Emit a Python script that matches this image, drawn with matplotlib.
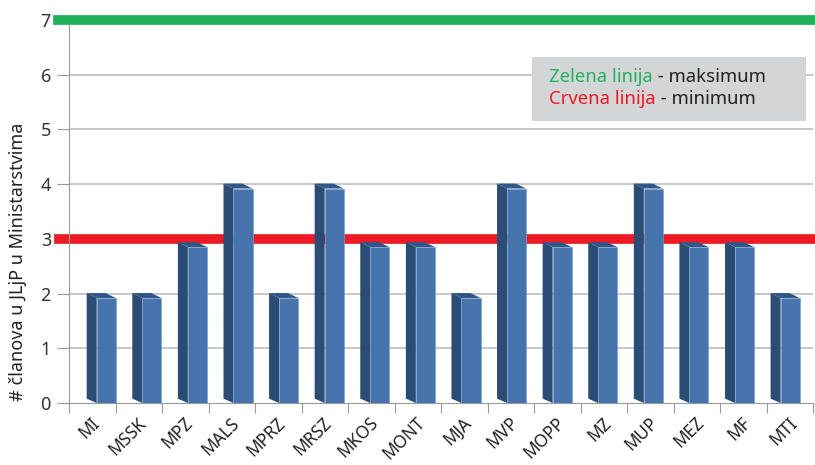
import matplotlib.pyplot as plt
import numpy as np

plt.rcParams['font.family'] = ['Noto Sans', 'DejaVu Sans']

ministarstva = ['MI', 'MSSK', 'MPZ', 'MALS', 'MPRZ', 'MRSZ', 'MKOS', 'MONT',
                'MJA', 'MVP', 'MOPP', 'MZ', 'MUP', 'MEZ', 'MF', 'MTI']
clanovi = [2, 2, 2.93, 4, 2, 4, 2.93, 2.93, 2, 4, 2.93, 2.93, 4, 2.93, 2.93, 2]
maksimum = 7
minimum = 3

front_c = '#4674ad'
side_c = '#2b4c75'
top_c = '#30568a'
grid_c = '#bdbdbd'

fig = plt.figure(figsize=(8.15, 4.65), dpi=100)
ax = fig.add_axes([0.0847, 0.1333, 0.9129, 0.8237])

x = np.arange(len(ministarstva))
v = np.array(clanovi, dtype=float)

# stupci nisu tocno u sredini polja - blago "klize" ulijevo
pos = x + 0.095 - 0.0195 * x

# "3D" stupci: prednja strana + tamna bocna strana + vrh
dy = 0.08
for p, vi in zip(pos, v):
    l, r, b = p - 0.215, p, p + 0.41
    ax.fill([l, r, r, l], [dy, 0, vi - dy, vi + 0.01], color=side_c, zorder=3, lw=0)
    ax.fill([l, r, b, b - 0.22], [vi + 0.01, vi - dy, vi - dy, vi + 0.01],
            color=top_c, zorder=3, lw=0)
ax.bar(pos, v - dy, width=0.41, align='edge', color=front_c,
       edgecolor='#7f9fc8', linewidth=0.5, zorder=4)

ax.set_xlim(-0.5, len(ministarstva) - 0.5)
ax.set_ylim(0, 7)

ax.set_yticks(range(0, 8))
ax.tick_params(axis='y', length=9, color='#999999', labelsize=13,
               labelcolor='#333333', pad=4)
for yv in range(1, 7):
    ax.axhline(yv, color=grid_c, lw=1.2, zorder=1)

ax.set_xticks(np.arange(len(ministarstva) + 1) - 0.5)
ax.set_xticklabels([])
ax.tick_params(axis='x', length=7, color='#999999')
for xi, name in zip(x, ministarstva):
    ax.text(xi - 0.04, -0.2, name, rotation=45, ha='right', va='top',
            rotation_mode='anchor', fontsize=12.4, color='#222222')

for s in ['top', 'right']:
    ax.spines[s].set_visible(False)
ax.spines['left'].set_color('#999999')
ax.spines['bottom'].set_color('#999999')

fig.text(0.022, 0.438, '# članova u JLjP u Ministarstvima', rotation=90,
         fontsize=13, color='#222222', ha='center', va='center')

# linije maksimuma i minimuma
ax.axhline(maksimum, xmin=-0.015, xmax=1.01, color='#1fb15a', lw=7, clip_on=False, zorder=5)
ax.axhline(minimum, xmin=-0.014, xmax=1.01, color='#ed1c24', lw=7, clip_on=False, zorder=2)

# okvir s legendom
ax.add_patch(plt.Rectangle((9.457, 5.155), 5.89, 1.17, transform=ax.transData,
                           facecolor='#d4d5d7', edgecolor='none', zorder=6, clip_on=False))
t1 = ax.text(9.82, 5.96, 'Zelena linija', color='#22b35e', fontsize=13.3, va='center', zorder=7)
t2 = ax.text(9.82, 5.56, 'Crvena linija', color='#ed1c24', fontsize=13.3, va='center', zorder=7)
fig.canvas.draw()
for t, rest in [(t1, ' - maksimum'), (t2, ' - minimum')]:
    bb = t.get_window_extent().transformed(ax.transData.inverted())
    ax.text(bb.x1, t.get_position()[1], rest, color='#222222', fontsize=13.3,
            va='center', zorder=7)

fig.savefig('out.png', dpi=100)
